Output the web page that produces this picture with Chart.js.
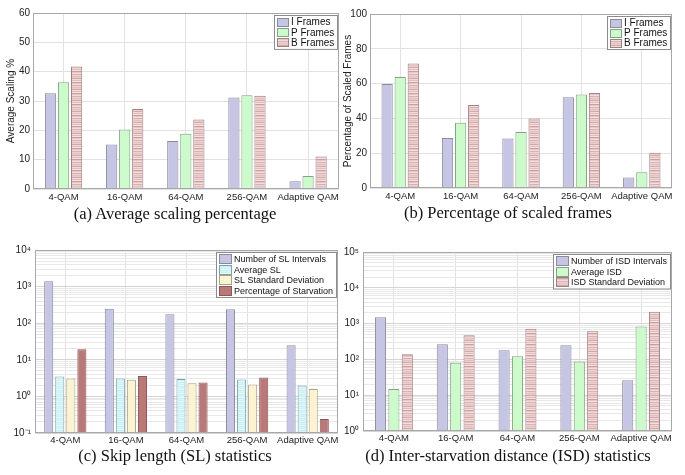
<!DOCTYPE html>
<html>
<head>
<meta charset="utf-8">
<script src="https://cdn.jsdelivr.net/npm/chart.js@4/dist/chart.umd.min.js"></script>
<style>
  body { margin: 0; background: #fff; width: 685px; height: 475px; position: relative; overflow: hidden; }
  canvas { position: absolute; }
  .cap { position: absolute; font-family: "Liberation Serif", "Times New Roman", serif; font-size: 16.5px; line-height: 17px; color: #111; white-space: nowrap; transform: translateX(-50%); }
</style>
</head>
<body>
<canvas id="chartA" width="342" height="205" style="left:0;top:0"></canvas>
<canvas id="chartB" width="345" height="205" style="left:340px;top:0"></canvas>
<canvas id="chartC" width="342" height="210" style="left:0;top:240px"></canvas>
<canvas id="chartD" width="345" height="210" style="left:340px;top:240px"></canvas>
<div class="cap" style="left:175px;top:205px">(a) Average scaling percentage</div>
<div class="cap" style="left:508px;top:204px">(b) Percentage of scaled frames</div>
<div class="cap" style="left:175px;top:447px">(c) Skip length (SL) statistics</div>
<div class="cap" style="left:508px;top:447px">(d) Inter-starvation distance (ISD) statistics</div>
<script>
// ---- data ----
const categories = ['4-QAM', '16-QAM', '64-QAM', '256-QAM', 'Adaptive QAM'];

// (a) average scaling %
const scalingI = [32.6, 15.2, 16.4, 31.2, 2.6];
const scalingP = [36.4, 20.3, 18.8, 32.0, 4.4];
const scalingB = [41.8, 27.3, 23.7, 31.8, 11.1];

// (b) percentage of scaled frames
const scaledI = [59.8, 28.7, 28.5, 52.1, 6.1];
const scaledP = [63.8, 37.5, 32.2, 53.8, 9.0];
const scaledB = [71.6, 47.7, 40.0, 54.6, 20.3];

// (c) skip length statistics
const slIntervals = [1400, 250, 175, 240, 25];
const slAverage = [3.5, 3.1, 3.0, 2.9, 2.0];
const slStdDev = [3.1, 2.85, 2.3, 2.1, 1.6];
const starvationPct = [19.5, 3.6, 2.4, 3.3, 0.24];

// (d) inter-starvation distance statistics
const isdIntervals = [1500, 265, 180, 250, 26];
const isdAverage = [15, 80, 122, 88, 830];
const isdStdDev = [140, 470, 720, 610, 2150];

// tick labels
const ticksA = [0, 10, 20, 30, 40, 50, 60];
const ticksB = [0, 20, 40, 60, 80, 100];
const decadesC = [-1, 0, 1, 2, 3, 4];
const decadesD = [0, 1, 2, 3, 4, 5];
const supDigits = { '-': '⁻', '0': '⁰', '1': '¹', '2': '²', '3': '³', '4': '⁴', '5': '⁵' };

const sans = '"Liberation Sans", Arial, sans-serif';
const gridColor = '#e2e2e2';

// striped fill like the hatched bars
function stripes(rows) {
  const c = document.createElement('canvas');
  c.width = 4; c.height = rows.length;
  const g = c.getContext('2d');
  rows.forEach((col, i) => { g.fillStyle = col; g.fillRect(0, i, 4, 1); });
  return g.createPattern(c, 'repeat');
}
const roseStripes = stripes(['#eacdcd', '#d4a9a9', '#f0d9d9', '#e0bcbc', '#f4e2e2', '#cd9e9e', '#e7c7c7', '#f1dddd', '#d8b1b1', '#edd3d3', '#e3c1c1']);
const cyanStripes = stripes(['#cdf1f5', '#e6fafc', '#c6eef3', '#d8f6f9']);

const styles = {
  lavender: { backgroundColor: '#c6c6e4', borderColor: '#8a8a9c' },
  green: { backgroundColor: '#cdfacb', borderColor: '#84a284' },
  rose: { backgroundColor: roseStripes, borderColor: '#a08080' },
  cyan: { backgroundColor: cyanStripes, borderColor: '#7ea4a8' },
  yellow: { backgroundColor: '#fbf3d2', borderColor: '#a8a284' },
  darkRose: { backgroundColor: '#b97979', borderColor: '#8a5858' }
};

function bar(label, data, style, cat, barPct) {
  return Object.assign({ label, data, borderWidth: 1, categoryPercentage: cat, barPercentage: barPct }, style);
}

// legend inside a framed box at the top right, like the original figure
const boxLegend = {
  id: 'boxLegend',
  afterDraw(chart, args, opts) {
    const { ctx, chartArea } = chart;
    const sets = chart.data.datasets;
    ctx.save();
    ctx.font = opts.fontSize + 'px ' + sans;
    let textW = 0;
    sets.forEach(ds => { textW = Math.max(textW, ctx.measureText(ds.label).width); });
    const w = Math.round(3 + opts.patchW + 2 + textW + 3);
    const h = sets.length * opts.rowH + 3;
    const x = Math.round(chartArea.right - w - 2);
    const y = Math.round(chartArea.top + 2);
    ctx.fillStyle = '#fff';
    ctx.fillRect(x, y, w, h);
    ctx.strokeStyle = '#8c8c8c';
    ctx.lineWidth = 1;
    ctx.strokeRect(x + 0.5, y + 0.5, w, h);
    sets.forEach((ds, i) => {
      const ry = y + 2 + i * opts.rowH;
      const py = Math.round(ry + (opts.rowH - opts.patchH) / 2);
      ctx.fillStyle = ds.backgroundColor;
      ctx.fillRect(x + 3, py, opts.patchW, opts.patchH);
      ctx.strokeStyle = ds.borderColor;
      ctx.strokeRect(x + 3.5, py + 0.5, opts.patchW - 1, opts.patchH - 1);
      ctx.fillStyle = '#111';
      ctx.textBaseline = 'middle';
      ctx.fillText(ds.label, x + 5 + opts.patchW, ry + opts.rowH / 2 + 0.5);
    });
    ctx.restore();
  }
};

// plot box around the chart area
const plotFrame = {
  id: 'plotFrame',
  afterDatasetsDraw(chart) {
    const { ctx, chartArea: a } = chart;
    ctx.save();
    ctx.strokeStyle = '#a8a8a8';
    ctx.lineWidth = 1;
    ctx.strokeRect(Math.round(a.left) + 0.5, Math.round(a.top) + 0.5, Math.round(a.right - a.left) - 1, Math.round(a.bottom - a.top) - 1);
    ctx.restore();
  }
};

function logTicks(decades) {
  const out = [];
  decades.forEach((e, i) => {
    const maxM = i === decades.length - 1 ? 1 : 9;
    for (let m = 1; m <= maxM; m++) out.push({ value: m * Math.pow(10, e) });
  });
  return out;
}

function decadeLabel(v) {
  const e = Math.round(Math.log10(v));
  if (Math.abs(v - Math.pow(10, e)) > 1e-9 * Math.pow(10, e)) return '';
  return '10' + String(e).split('').map(ch => supDigits[ch]).join('');
}

function linearY(ticks, width, title, titlePad) {
  return {
    min: ticks[0], max: ticks[ticks.length - 1],
    afterBuildTicks: s => { s.ticks = ticks.map(v => ({ value: v })); },
    grid: { color: gridColor, drawTicks: false },
    border: { display: false },
    ticks: { color: '#222', font: { size: 10, family: sans }, padding: 3 },
    title: { display: true, text: title, color: '#222', font: { size: 10, family: sans }, padding: { top: titlePad, bottom: 0 } },
    afterFit: s => { s.width = width; }
  };
}

function logY(decades, width) {
  return {
    type: 'logarithmic',
    min: Math.pow(10, decades[0]), max: Math.pow(10, decades[decades.length - 1]),
    afterBuildTicks: s => { s.ticks = logTicks(decades); },
    grid: {
      drawTicks: false,
      color: c => (decadeLabel(c.tick.value) ? '#d4d4d4' : '#e8e8e8')
    },
    border: { display: false },
    ticks: { color: '#222', font: { size: 10, family: sans }, padding: 4, autoSkip: false, callback: v => decadeLabel(v) },
    afterFit: s => { s.width = width; }
  };
}

function makeChart(id, datasets, y, cfg) {
  return new Chart(document.getElementById(id), {
    type: 'bar',
    data: { labels: categories, datasets },
    plugins: [plotFrame, boxLegend],
    options: {
      responsive: false,
      animation: false,
      layout: { padding: cfg.padding },
      plugins: { legend: { display: false }, tooltip: { enabled: false }, boxLegend: cfg.legend },
      scales: {
        x: {
          grid: { offset: false, color: gridColor, drawTicks: false },
          border: { display: false },
          ticks: { color: '#222', font: { size: 9.5, family: sans }, padding: cfg.xPad, maxRotation: 0, autoSkip: false },
          afterFit: s => { s.height = cfg.xHeight; }
        },
        y
      }
    }
  });
}

makeChart('chartA', [
  bar('I Frames', scalingI, styles.lavender, 0.64, 0.86),
  bar('P Frames', scalingP, styles.green, 0.64, 0.86),
  bar('B Frames', scalingB, styles.rose, 0.64, 0.86)
], linearY(ticksA, 33, 'Average Scaling %', 5), {
  padding: { top: 13, right: 3, left: 0, bottom: 0 }, xHeight: 16, xPad: 3,
  legend: { fontSize: 10, rowH: 10.3, patchW: 12, patchH: 9 }
});

makeChart('chartB', [
  bar('I Frames', scaledI, styles.lavender, 0.65, 0.86),
  bar('P Frames', scaledP, styles.green, 0.65, 0.86),
  bar('B Frames', scaledB, styles.rose, 0.65, 0.86)
], linearY(ticksB, 30, 'Percentage of Scaled Frames', 2), {
  padding: { top: 14, right: 13, left: 0, bottom: 0 }, xHeight: 17, xPad: 3,
  legend: { fontSize: 10, rowH: 10, patchW: 12, patchH: 9 }
});

makeChart('chartC', [
  bar('Number of SL Intervals', slIntervals, styles.lavender, 0.73, 0.82),
  bar('Average SL', slAverage, styles.cyan, 0.73, 0.82),
  bar('SL Standard Deviation', slStdDev, styles.yellow, 0.73, 0.82),
  bar('Percentage of Starvation', starvationPct, styles.darkRose, 0.73, 0.82)
], logY(decadesC, 35), {
  padding: { top: 10, right: 4, left: 0, bottom: 0 }, xHeight: 17, xPad: 2,
  legend: { fontSize: 9, rowH: 10.5, patchW: 13, patchH: 10 }
});

makeChart('chartD', [
  bar('Number of ISD Intervals', isdIntervals, styles.lavender, 0.65, 0.83),
  bar('Average ISD', isdAverage, styles.green, 0.65, 0.83),
  bar('ISD Standard Deviation', isdStdDev, styles.rose, 0.65, 0.83)
], logY(decadesD, 23), {
  padding: { top: 12, right: 13, left: 0, bottom: 0 }, xHeight: 19, xPad: 2,
  legend: { fontSize: 9, rowH: 10.5, patchW: 13, patchH: 10 }
});
</script>
</body>
</html>
